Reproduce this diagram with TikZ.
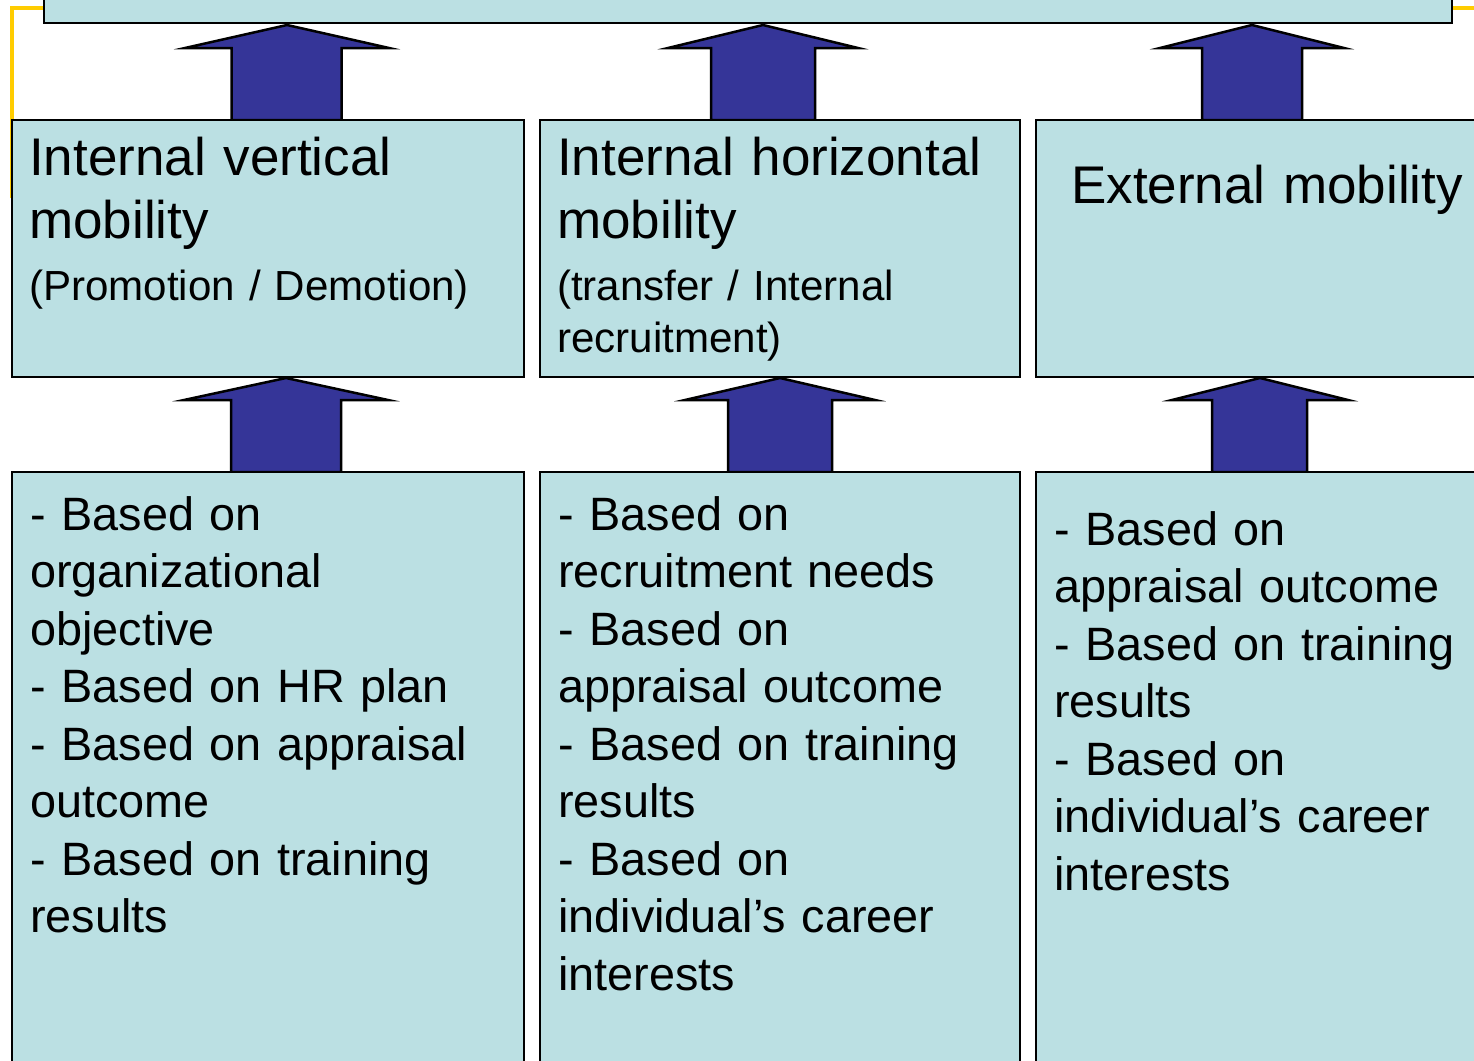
\documentclass[tikz,border=0pt]{standalone}
\usepackage{fontspec}
\setmainfont{Liberation Sans}
\definecolor{boxfill}{HTML}{BBE0E3}
\definecolor{arrowfill}{HTML}{353598}
\definecolor{gold}{HTML}{FFCC00}
\tikzset{
  box/.style={draw=black, fill=boxfill, line width=2.5pt, rectangle, inner sep=0pt, outer sep=0pt, anchor=north west},
  blockarrow/.style={draw=black, fill=arrowfill, line width=2.5pt, line join=miter},
  headtext/.style={anchor=base west, inner sep=0pt, align=left, text width=480pt, font=\fontsize{53}{63}\selectfont},
  subtext/.style={anchor=base west, inner sep=0pt, align=left, text width=480pt, font=\fontsize{42.1}{52}\selectfont},
  bodytext/.style={anchor=base west, inner sep=0pt, align=left, text width=480pt, font=\fontsize{46.8}{57.5}\selectfont},
  goldline/.style={draw=gold, line width=4pt}
}
% tip x, tip y, head half width, shaft half width, head base y, shaft base y, shaft centre x
\newcommand{\uparrowshape}[7]{%
  \draw[blockarrow] (#1,#2) -- (#1+#3,#5) -- (#7+#4,#5) -- (#7+#4,#6) -- (#7-#4,#6) -- (#7-#4,#5) -- (#1-#3,#5) -- cycle;}
\begin{document}
\begin{tikzpicture}[x=1pt,y=-1pt]
\useasboundingbox (0,0) rectangle (1474,1060);
\clip (0,0) rectangle (1474,1060);

% gold connector behind the boxes
\coordinate (g1) at (12,198);
\coordinate (g2) at (12,8);
\coordinate (g3) at (44,8);
\coordinate (g4) at (1452,8);
\coordinate (g5) at (1480,8);
\draw[goldline] (g1) -- (g2) -- (g3);
\draw[goldline] (g4) -- (g5);

% top box
\node[box, minimum width=1408pt, minimum height=60pt] (top) at (44,-37) {};

% arrows
\uparrowshape{287}{25}{102}{55}{48}{120}{286.5}
\uparrowshape{763}{25}{95}{52}{48}{120}{763}
\uparrowshape{1252}{25}{92}{50}{48}{120}{1252}
\uparrowshape{286}{378}{102}{55}{400}{472}{286}
\uparrowshape{780}{378}{95}{52}{400}{472}{780}
\uparrowshape{1260}{378}{88}{47.5}{400}{472}{1259.5}

% middle row
\node[box, minimum width=512pt, minimum height=257pt] (m1) at (12,120) {};
\node[box, minimum width=480pt, minimum height=257pt] (m2) at (540,120) {};
\node[box, minimum width=460pt, minimum height=257pt] (m3) at (1036,120) {};

% bottom row
\node[box, minimum width=512pt, minimum height=620pt] (b1) at (12,472) {};
\node[box, minimum width=480pt, minimum height=620pt] (b2) at (540,472) {};
\node[box, minimum width=460pt, minimum height=620pt] (b3) at (1036,472) {};

% texts
\node[headtext] (h1) at (29,175) {Internal vertical\\mobility};
\node[subtext] (s1) at (29,300) {(Promotion / Demotion)};
\node[headtext] (h2) at (557,175) {Internal horizontal\\mobility};
\node[subtext] (s2) at (557,300) {(transfer / Internal\\recruitment)};
\node[headtext] (h3) at (1071,203) {External mobility};

\node[bodytext] (t1) at (30,530) {- Based on\\organizational\\objective\\- Based on HR plan\\- Based on appraisal\\outcome\\- Based on training\\results};
\node[bodytext] (t2) at (558,530) {- Based on\\recruitment needs\\- Based on\\appraisal outcome\\- Based on training\\results\\- Based on\\individual’s career\\interests};
\node[bodytext] (t3) at (1054,545) {- Based on\\appraisal outcome\\- Based on training\\results\\- Based on\\individual’s career\\interests};
\end{tikzpicture}
\end{document}
